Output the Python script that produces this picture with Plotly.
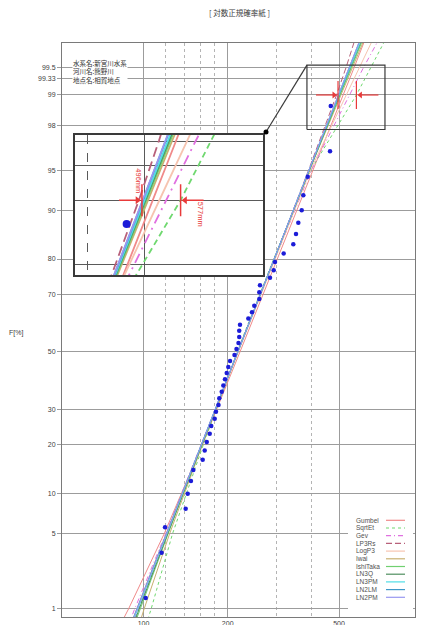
import math
from statistics import NormalDist
import plotly.graph_objects as go

ND = NormalDist()


def zf(p):
    """Normal-probability-paper coordinate of a non-exceedance probability in %."""
    return ND.inv_cdf(p / 100.0)


# ---------------- text ----------------
TITLE = "[ 対数正規確率紙 ]"
INFO_LINES = ["水系名:新宮川水系", "河川名:熊野川", "地点名:相賀地点"]
Y_TITLE = "F[%]"

# ---------------- axes ----------------
PROB_TICKS = [1, 5, 10, 20, 30, 50, 70, 80, 90, 95, 98, 99, 99.33, 99.5]
PROB_LABELS = ["1", "5", "10", "20", "30", "50", "70", "80", "90", "95", "98", "99", "99.33", "99.5"]
RETURN_PROB = [80, 90, 95, 98, 99, 99.33, 99.5]
RETURN_LABELS = ["5", "10", "20", "50", "100", "150", "200"]
X_MAJOR = [100, 200, 500]
X_MAJOR_LABELS = ["100", "200", "500"]
X_MINOR = [120, 140, 160, 180, 300, 400]
X_EXTRA_LABEL = 1000

INSET_PROB = [98, 99, 99.33, 99.5]
INSET_X_MAJOR = [500]
INSET_X_MINOR = [400]
ZOOM_BOX_MM = [384, 730]
ZOOM_BOX_F = [97.8, 99.53]

# ---------------- observed data (mm, plotting position %) ----------------
OBS_MM = [101.8, 116.1, 119.4, 141.5, 143.9, 147.8, 150.7, 162.8, 165.5, 168.3,
          172.5, 174.7, 179.7, 181.6, 185.4, 186.6, 190.4, 192.9, 195.6, 198.4,
          201.0, 203.9, 211.5, 215.0, 218.6, 219.9, 219.9, 221.3, 237.0, 244.3,
          248.9, 259.4, 259.4, 260.9, 283.3, 292.1, 295.3, 317.1, 343.2, 351.0,
          357.7, 367.8, 372.7, 386.4, 464.4, 467.1]
OBS_F = [1.30, 3.46, 5.63, 7.79, 9.96, 12.12, 14.29, 16.45, 18.61, 20.78,
         22.94, 25.11, 27.27, 29.44, 31.60, 33.77, 35.93, 38.10, 40.26, 42.42,
         44.59, 46.75, 48.92, 51.08, 53.25, 55.41, 57.58, 59.74, 61.90, 64.07,
         66.23, 68.40, 70.56, 72.73, 74.89, 77.06, 79.22, 81.39, 83.55, 85.71,
         87.88, 90.04, 92.21, 94.37, 96.54, 98.70]

# ---------------- fitted distributions (mm at LINE_F) ----------------
LINE_F = [0.5, 1, 5, 20, 50, 80, 95, 99, 99.5, 99.9]
GUMBEL = [78.6, 88.4, 118.6, 162.1, 221.2, 300.6, 403.7, 518.0, 566.7, 679.7]
SQRTET = [99.0, 106.5, 127.0, 163.5, 216.0, 292.0, 396.0, 577.0, 650.0, 830.0]
GEV = [85.0, 93.0, 120.0, 160.5, 217.0, 295.0, 398.0, 546.0, 612.0, 790.0]
LP3RS = [88.0, 96.0, 122.0, 161.5, 217.5, 293.5, 389.0, 490.0, 530.0, 615.0]
LOGP3 = [87.0, 94.5, 120.5, 160.8, 217.5, 294.5, 395.0, 531.0, 590.0, 740.0]
IWAI = [93.5, 100.5, 124.0, 162.3, 217.3, 293.0, 392.0, 508.0, 558.0, 680.0]
ISHITAKA = [89.5, 97.2, 122.5, 161.6, 217.2, 293.2, 391.5, 504.0, 553.0, 671.0]
LN3Q = [88.8, 96.5, 122.0, 161.3, 217.0, 293.0, 391.0, 502.0, 550.0, 666.0]
LN3PM = [87.5, 95.4, 121.3, 161.0, 217.0, 293.0, 390.8, 500.5, 548.0, 662.0]
LN2LM = [86.6, 94.6, 120.7, 160.7, 217.0, 293.1, 390.4, 497.8, 544.3, 653.9]
LN2PM = [86.9, 94.9, 121.0, 161.0, 217.3, 293.2, 390.3, 497.3, 543.5, 652.7]

SERIES = [("Gumbel", GUMBEL), ("SqrtEt", SQRTET), ("Gev", GEV), ("LP3Rs", LP3RS),
          ("LogP3", LOGP3), ("Iwai", IWAI), ("IshiTaka", ISHITAKA), ("LN3Q", LN3Q),
          ("LN3PM", LN3PM), ("LN2LM", LN2LM), ("LN2PM", LN2PM)]

Q_PROB = 99
Q_LOW, Q_HIGH = 496, 577
Q_LOW_LABEL, Q_HIGH_LABEL = "496mm", "577mm"

# ---------------- styles ----------------
STYLE = {
    "Gumbel":   dict(color="#f08a8a", dash="solid", big="solid"),
    "SqrtEt":   dict(color="#6fd86f", dash="3px,3px", big="6px,4px"),
    "Gev":      dict(color="#e070e0", dash="5px,3px,1px,3px", big="10px,5px,2px,5px"),
    "LP3Rs":    dict(color="#b8607a", dash="6px,3px", big="10px,5px"),
    "LogP3":    dict(color="#f6c4b0", dash="solid", big="solid"),
    "Iwai":     dict(color="#c8b070", dash="solid", big="solid"),
    "IshiTaka": dict(color="#70d070", dash="solid", big="solid"),
    "LN3Q":     dict(color="#4f8f5f", dash="solid", big="solid"),
    "LN3PM":    dict(color="#4fdde6", dash="solid", big="solid"),
    "LN2LM":    dict(color="#3f98c8", dash="solid", big="solid"),
    "LN2PM":    dict(color="#9898f0", dash="solid", big="solid"),
}
RED = "#e83a3a"
DOT = "#1c1cd8"
GRID = "#9c9c9c"
GRID_MINOR = "#b4b4b4"
FRAME = "#7a7a7a"
TXT = "#404040"
FONT = "Liberation Sans, Arial, sans-serif"
JFONT = "Noto Sans CJK JP, sans-serif"

# page offset of the plotly div inside the browser page (default body margin)
OFF = 8
SCR_W, SCR_H = 425, 625
# plot area in screen pixels
SL, ST, SR, SB = 62, 43, 415, 617
W, H = SCR_W - OFF, SCR_H - OFF
L, T = SL - OFF, ST - OFF
R, B = W - (SR - OFF), H - (SB - OFF)
PW, PH = SR - SL, SB - ST
X_RANGE = [1.7086, 2.9707]
Y_RANGE = [-2.399, 2.797]
PPD = PW / (X_RANGE[1] - X_RANGE[0])
PPZ = PH / (Y_RANGE[1] - Y_RANGE[0])

# inset (screen pixel box of the magnified view)
IN_L, IN_T, IN_R, IN_B = 75, 135, 263, 275
IN_X_RANGE = [2.58166, 2.90128]
IN_Y_RANGE = [2.0116, 2.6011]
IN_PPD = (IN_R - IN_L) / (IN_X_RANGE[1] - IN_X_RANGE[0])
IN_PPZ = (IN_B - IN_T) / (IN_Y_RANGE[1] - IN_Y_RANGE[0])


def ppx(px):
    return (px - SL) / PW


def ppy(py):
    return (SB - py) / PH


def main_px(mm):
    return SL + (math.log10(mm) - X_RANGE[0]) * PPD


def main_py(z):
    return ST + (Y_RANGE[1] - z) * PPZ


fig = go.Figure()

# ---- main fitted lines ----
for name, vals in SERIES:
    st = STYLE[name]
    fig.add_trace(go.Scatter(
        x=vals, y=[zf(f) for f in LINE_F], mode="lines", xaxis="x", yaxis="y",
        line=dict(color=st["color"], width=1, dash=st["dash"]),
        showlegend=False, hoverinfo="skip"))

# ---- observed points ----
fig.add_trace(go.Scatter(
    x=OBS_MM, y=[zf(f) for f in OBS_F], mode="markers", xaxis="x", yaxis="y",
    marker=dict(color=DOT, size=4.5, line=dict(width=0)),
    showlegend=False, hoverinfo="skip"))

# ---- zoom box in main plot ----
bx = [ZOOM_BOX_MM[0], ZOOM_BOX_MM[1], ZOOM_BOX_MM[1], ZOOM_BOX_MM[0], ZOOM_BOX_MM[0]]
by = [zf(ZOOM_BOX_F[0]), zf(ZOOM_BOX_F[0]), zf(ZOOM_BOX_F[1]), zf(ZOOM_BOX_F[1]), zf(ZOOM_BOX_F[0])]
fig.add_trace(go.Scatter(x=bx, y=by, mode="lines", xaxis="x", yaxis="y",
                         line=dict(color="#3a3a3a", width=1.2),
                         showlegend=False, hoverinfo="skip"))


def red_marks(xa, ya, ppd, ppz, half, arrow, width, msize):
    zc = zf(Q_PROB)
    for q, side in ((Q_LOW, -1), (Q_HIGH, 1)):
        lq = math.log10(q)
        fig.add_trace(go.Scatter(
            x=[q, q], y=[zc - half / ppz, zc + half / ppz], mode="lines",
            xaxis=xa, yaxis=ya, line=dict(color=RED, width=width),
            showlegend=False, hoverinfo="skip"))
        fig.add_trace(go.Scatter(
            x=[10 ** (lq + side * arrow / ppd), 10 ** (lq + side * 3 / ppd)], y=[zc, zc],
            mode="lines", xaxis=xa, yaxis=ya, line=dict(color=RED, width=width),
            showlegend=False, hoverinfo="skip"))
        fig.add_trace(go.Scatter(
            x=[10 ** (lq + side * (msize / 2 + 1) / ppd)], y=[zc], mode="markers",
            xaxis=xa, yaxis=ya,
            marker=dict(color=RED, size=msize,
                        symbol="triangle-right" if side < 0 else "triangle-left"),
            showlegend=False, hoverinfo="skip"))


red_marks("x", "y", PPD, PPZ, 14, 22, 1.2, 6)

# ---- inset ----
for name, vals in SERIES:
    st = STYLE[name]
    fig.add_trace(go.Scatter(
        x=vals, y=[zf(f) for f in LINE_F], mode="lines", xaxis="x2", yaxis="y2",
        line=dict(color=st["color"], width=1.8, dash=st["big"]),
        showlegend=False, hoverinfo="skip"))
fig.add_trace(go.Scatter(
    x=OBS_MM, y=[zf(f) for f in OBS_F], mode="markers", xaxis="x2", yaxis="y2",
    marker=dict(color=DOT, size=8, line=dict(width=0)),
    showlegend=False, hoverinfo="skip"))
red_marks("x2", "y2", IN_PPD, IN_PPZ, 16, 23, 1.5, 7)

tickfont = dict(size=7, color=TXT, family=FONT)

annotations = []
zc = zf(Q_PROB)
annotations.append(dict(
    xref="x2", yref="y2", x=math.log10(Q_LOW) - 3 / IN_PPD, y=zc + 19 / IN_PPZ,
    xanchor="center", yanchor="middle",
    text=Q_LOW_LABEL, textangle=90, showarrow=False,
    font=dict(size=7.5, color=RED, family=FONT)))
annotations.append(dict(
    xref="x2", yref="y2", x=math.log10(Q_HIGH) + 20 / IN_PPD, y=zc - 14 / IN_PPZ,
    xanchor="center", yanchor="middle",
    text=Q_HIGH_LABEL, textangle=90, showarrow=False,
    font=dict(size=7.5, color=RED, family=FONT)))

# right-hand return-period labels (cut by the page edge, as in the source)
for p, lab in zip(RETURN_PROB, RETURN_LABELS):
    annotations.append(dict(xref="paper", yref="y", x=ppx(417), y=zf(p),
                            xanchor="left", yanchor="middle", text=lab,
                            borderpad=0, showarrow=False, font=tickfont))

# title / labels
annotations.append(dict(xref="paper", yref="paper", x=ppx(239.5), y=ppy(12),
                        xanchor="center", yanchor="middle",
                        text=TITLE, showarrow=False,
                        font=dict(size=7.5, color=TXT, family=JFONT)))
annotations.append(dict(xref="paper", yref="paper", x=ppx(15.5), y=ppy(333),
                        xanchor="center", yanchor="middle",
                        text=Y_TITLE, showarrow=False,
                        font=dict(size=7, color=TXT, family=FONT)))
annotations.append(dict(xref="paper", yref="paper", x=ppx(72), y=ppy(57),
                        xanchor="left", yanchor="top", align="left",
                        text="<br>".join(INFO_LINES), showarrow=False,
                        bgcolor="white", borderpad=0,
                        font=dict(size=6.5, color="#303030", family=JFONT)))
annotations.append(dict(xref="x", yref="paper", x=math.log10(X_EXTRA_LABEL), y=0,
                        xanchor="center", yanchor="top", yshift=-2,
                        text=str(X_EXTRA_LABEL), showarrow=False, font=tickfont))

shapes = []
# connector from zoom box to inset
box_px = main_px(ZOOM_BOX_MM[0])
box_py = main_py(zf(ZOOM_BOX_F[1]))
shapes.append(dict(type="line", xref="paper", yref="paper",
                   x0=ppx(box_px), y0=ppy(box_py), x1=ppx(IN_R + 3), y1=ppy(IN_T - 3),
                   line=dict(color="#3a3a3a", width=1.2), layer="above"))
shapes.append(dict(type="circle", xref="paper", yref="paper", xsizemode="pixel",
                   ysizemode="pixel", xanchor=ppx(IN_R + 3), yanchor=ppy(IN_T - 3),
                   x0=-2.5, x1=2.5, y0=-2.5, y1=2.5, fillcolor="black",
                   line=dict(width=0), layer="above"))

# custom legend (names left, line samples right)
LG_L, LG_T, LG_R, LG_B = 348, 513, 413, 611
shapes.append(dict(type="rect", xref="paper", yref="paper",
                   x0=ppx(LG_L), x1=ppx(LG_R), y0=ppy(LG_B), y1=ppy(LG_T),
                   fillcolor="white", line=dict(width=0), layer="above"))
for i, (name, _) in enumerate(SERIES):
    yy = 520.3 + 7.7 * i
    st = STYLE[name]
    shapes.append(dict(type="line", xref="paper", yref="paper",
                       x0=ppx(386), x1=ppx(405), y0=ppy(yy), y1=ppy(yy),
                       line=dict(color=st["color"], width=1.2, dash=st["dash"]),
                       layer="above"))
    annotations.append(dict(xref="paper", yref="paper", x=ppx(354), y=ppy(yy),
                            xanchor="left", yanchor="middle", text=name,
                            showarrow=False,
                            font=dict(size=6.5, color="#505050", family=FONT)))

fig.update_layout(
    template="none",
    width=W, height=H,
    margin=dict(l=L, r=R, t=T, b=B, pad=0),
    paper_bgcolor="white", plot_bgcolor="white",
    showlegend=False,
    xaxis=dict(type="log", range=X_RANGE, domain=[0, 1], anchor="y",
               tickmode="array", tickvals=X_MAJOR, ticktext=X_MAJOR_LABELS,
               ticks="", showgrid=True, gridcolor=GRID, gridwidth=1,
               minor=dict(tickmode="array", tickvals=X_MINOR, showgrid=True,
                          gridcolor=GRID_MINOR, griddash="dot", gridwidth=1, ticks=""),
               showline=True, mirror=True, linecolor=FRAME, linewidth=1,
               zeroline=False, tickfont=tickfont, automargin=False),
    yaxis=dict(range=Y_RANGE, domain=[0, 1], anchor="x",
               tickmode="array", tickvals=[zf(p) for p in PROB_TICKS],
               ticktext=PROB_LABELS, ticks="outside", ticklen=4, tickcolor=GRID,
               showgrid=True, gridcolor=GRID, gridwidth=1,
               showline=True, mirror=True, linecolor=FRAME, linewidth=1,
               zeroline=False, tickfont=tickfont, automargin=False),
    xaxis2=dict(type="log", range=IN_X_RANGE, anchor="y2",
                domain=[ppx(IN_L), ppx(IN_R)],
                tickmode="array", tickvals=INSET_X_MAJOR, showticklabels=False,
                ticks="", showgrid=True, gridcolor="#5a5a5a", gridwidth=1.3,
                minor=dict(tickmode="array", tickvals=INSET_X_MINOR, showgrid=True,
                           gridcolor="#5a5a5a", griddash="dash", gridwidth=1.3, ticks=""),
                showline=True, mirror=True, linecolor="#3a3a3a", linewidth=1.5,
                zeroline=False, automargin=False),
    yaxis2=dict(range=IN_Y_RANGE, anchor="x2",
                domain=[ppy(IN_B), ppy(IN_T)],
                tickmode="array", tickvals=[zf(p) for p in INSET_PROB],
                showticklabels=False, ticks="", showgrid=True,
                gridcolor="#5a5a5a", gridwidth=1.3,
                showline=True, mirror=True, linecolor="#3a3a3a", linewidth=1.5,
                zeroline=False, automargin=False),
    annotations=annotations,
    shapes=shapes,
)

fig.write_html("out.html")
